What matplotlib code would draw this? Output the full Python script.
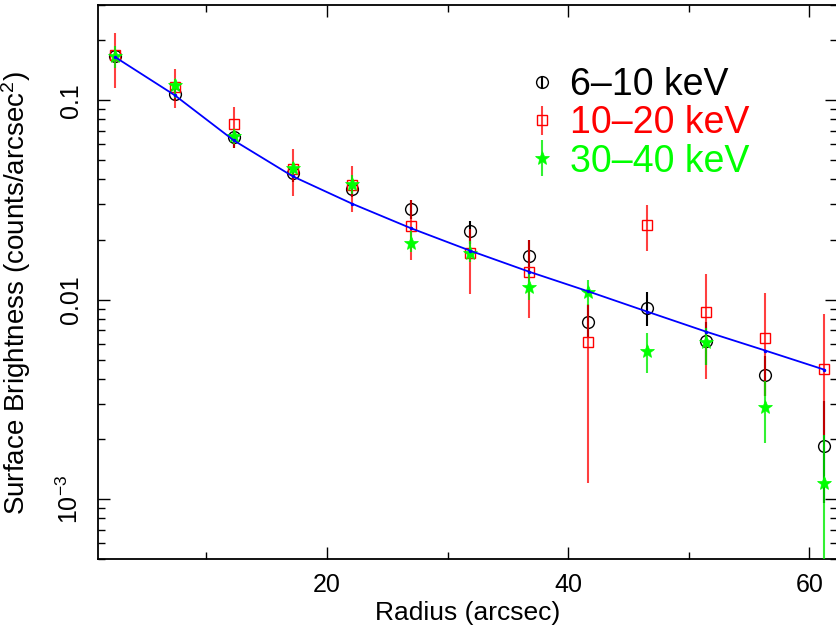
import numpy as np
import matplotlib
matplotlib.use("Agg")
import matplotlib.pyplot as plt
from matplotlib.legend_handler import HandlerErrorbar
from matplotlib.ticker import FixedLocator, NullFormatter, LogLocator

plt.rcParams['font.family'] = ['Liberation Sans', 'DejaVu Sans']
plt.rcParams['mathtext.fontset'] = 'custom'
plt.rcParams['mathtext.rm'] = 'Liberation Sans'
plt.rcParams['mathtext.it'] = 'Liberation Sans:italic'

# radius of each annulus (arcsec)
radius = [2.45, 7.35, 12.25, 17.15, 22.05, 26.95, 31.85, 36.75, 41.65, 46.55, 51.45, 56.35, 61.25]

# 6-10 keV
sb_6 = [0.166, 0.107, 0.065, 0.043, 0.0357, 0.0283, 0.0220, 0.0166, 0.0077, 0.0091, 0.0062, 0.0042, 0.00185]
lo_6 = [0.155, 0.099, 0.0573, 0.039, 0.0327, 0.0253, 0.0191, 0.0139, 0.0064, 0.0074, 0.0047, 0.0033, 0.00096]
hi_6 = [0.178, 0.115, 0.070, 0.047, 0.0387, 0.0315, 0.0249, 0.0198, 0.0094, 0.0109, 0.0077, 0.0052, 0.0031]

# 10-20 keV
sb_10 = [0.168, 0.117, 0.076, 0.045, 0.0374, 0.0233, 0.0172, 0.0138, 0.0061, 0.0236, 0.0087, 0.0064, 0.0045]
lo_10 = [0.115, 0.091, 0.0574, 0.033, 0.0274, 0.0157, 0.0107, 0.0081, 0.0012, 0.0176, 0.0040, 0.0033, 0.0021]
hi_10 = [0.217, 0.143, 0.092, 0.057, 0.0466, 0.0315, 0.0225, 0.0198, 0.0095, 0.0297, 0.0134, 0.0108, 0.0085]

# 30-40 keV
sb_30 = [0.166, 0.119, 0.066, 0.0456, 0.038, 0.0193, 0.0172, 0.0116, 0.0109, 0.0055, 0.0061, 0.0029, 0.00120]
lo_30 = [0.145, 0.102, 0.060, 0.041, 0.034, 0.0174, 0.0155, 0.0100, 0.0094, 0.0043, 0.0047, 0.0019, 0.0003]
hi_30 = [0.187, 0.127, 0.072, 0.049, 0.042, 0.022, 0.0196, 0.0138, 0.0125, 0.0068, 0.0072, 0.0039, 0.0021]

# model profile
model = [0.164, 0.106, 0.0629, 0.0415, 0.0303, 0.0228, 0.0176, 0.0138, 0.0110, 0.0087, 0.0069, 0.00555, 0.00445]

labels = ['6\u201310 keV', '10\u201320 keV', '30\u201340 keV']
ytick_vals = [1e-3, 1e-2, 1e-1]
ytick_labels = ['$10^{-3}$', '0.01', '0.1']


def yerr(sb, lo, hi):
    sb = np.array(sb)
    return [sb - np.array(lo), np.array(hi) - sb]


fig = plt.figure(figsize=(8.36, 6.26), dpi=100)
ax = fig.add_axes([98 / 836, 1 - 559 / 626, 739 / 836, 554 / 626])

e1 = ax.errorbar(radius, sb_6, yerr=yerr(sb_6, lo_6, hi_6), fmt='o', color='black',
                 mfc='none', mec='black', ms=8.5, mew=1.0, elinewidth=1.5, capsize=0, zorder=3)
e2 = ax.errorbar(radius, sb_10, yerr=yerr(sb_10, lo_10, hi_10), fmt='s', color='red',
                 mfc='none', mec='red', ms=7, mew=1.0, elinewidth=1.5, capsize=0, zorder=4)
e2[2][0].set_alpha(0.75)
e3 = ax.errorbar(radius, sb_30, yerr=yerr(sb_30, lo_30, hi_30), fmt='*', color='#00ee00',
                 mfc='#00ff00', mec='#00ff00', ms=10, mew=0.5, elinewidth=1.5, capsize=0, zorder=5)
e3[2][0].set_alpha(0.8)
ax.plot(radius, model, color='blue', lw=1.3, marker='.', ms=3, zorder=6)

ax.set_yscale('log')
ax.set_xlim(1.0, 62.3)
ax.set_ylim(5e-4, 0.3)

ax.xaxis.set_major_locator(FixedLocator([20, 40, 60]))
ax.xaxis.set_minor_locator(FixedLocator([10, 30, 50]))
ax.set_yticks(ytick_vals)
ax.set_yticklabels(ytick_labels)
ax.yaxis.set_minor_locator(LogLocator(base=10, subs=np.arange(2, 10)))
ax.yaxis.set_minor_formatter(NullFormatter())

ax.tick_params(which='both', direction='in', top=True, right=True, width=1.0)
ax.tick_params(which='major', length=8.5)
ax.tick_params(which='minor', length=5)
ax.tick_params(axis='x', labelsize=18, pad=10)
ax.tick_params(axis='y', labelsize=18, pad=11, labelrotation=90)
for t in ax.get_yticklabels():
    t.set_va('center')
for s in ax.spines.values():
    s.set_linewidth(1.3)

ax.set_xlabel('Radius (arcsec)', fontsize=19, labelpad=3)
ax.set_ylabel('Surface Brightness (counts/arcsec$^2$)', fontsize=20)
ax.yaxis.set_label_coords(-0.088, 0.48)

leg = ax.legend([e1, e2, e3], labels, loc='upper left', bbox_to_anchor=(0.575, 0.888),
                frameon=False, fontsize=27, numpoints=1, handlelength=1.0,
                handletextpad=0.25, borderpad=0, borderaxespad=0, labelspacing=0.06,
                handler_map={e1: HandlerErrorbar(yerr_size=0.16),
                             e2: HandlerErrorbar(yerr_size=0.39),
                             e3: HandlerErrorbar(yerr_size=0.48)})
for txt, c in zip(leg.get_texts(), ['black', 'red', '#00ff00']):
    txt.set_color(c)

fig.savefig('out.png', dpi=100)
